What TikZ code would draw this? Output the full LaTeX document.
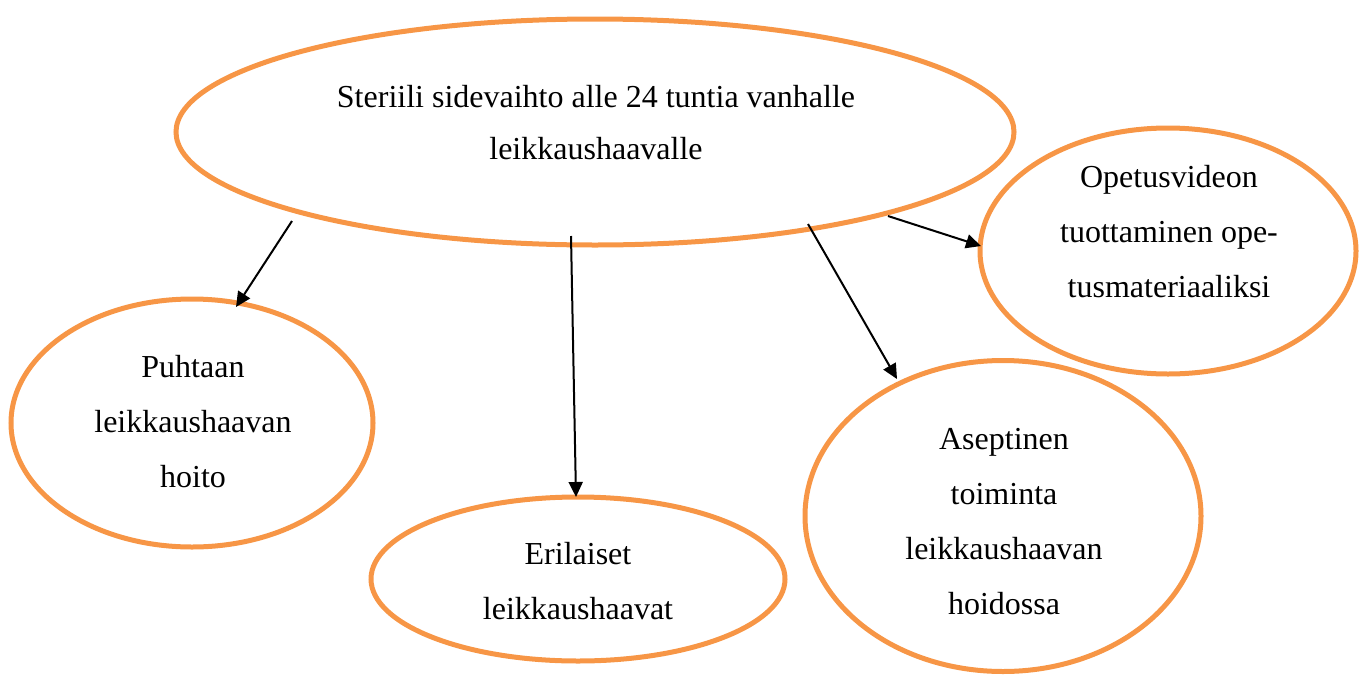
\documentclass[tikz,border=0pt]{standalone}
\usepackage{fontspec}
\setmainfont{Liberation Serif}
\newfontfamily\lserif{Liberation Serif}
\usetikzlibrary{shapes.geometric,arrows.meta}
\definecolor{orng}{RGB}{247,150,70}
\tikzset{
  oval/.style={draw=orng, line width=2.5pt, ellipse, inner sep=0pt},
  txt/.style={align=center, font=\lserif\fontsize{16pt}{27.5pt}\selectfont, inner sep=0pt},
  arr/.style={-{Triangle[length=7.5pt,width=7pt]}, line width=1pt, black}
}
\begin{document}
\begin{tikzpicture}[x=0.5pt,y=-0.5pt]
\useasboundingbox (0,0) rectangle (1365,675);
% ellipses
\node[oval, minimum width=838pt*0.5, minimum height=226pt*0.5] (top) at (595,132) {};
\node[oval, minimum width=376pt*0.5, minimum height=246pt*0.5] (video) at (1168,251) {};
\node[oval, minimum width=362pt*0.5, minimum height=248pt*0.5] (puhdas) at (192,423) {};
\node[oval, minimum width=414pt*0.5, minimum height=164pt*0.5] (erilaiset) at (578,579) {};
\node[oval, minimum width=396pt*0.5, minimum height=311pt*0.5] (asept) at (1003,516) {};
% texts
\node[txt] (ttop) at (596,123) {Steriili sidevaihto alle 24 tuntia vanhalle\\[-1.5pt]leikkaushaavalle};
\node[txt] (tvideo) at (1169,232) {Opetusvideon\\tuottaminen ope-\\tusmateriaaliksi};
\node[txt] (tpuhdas) at (193,422) {Puhtaan\\leikkaushaavan\\hoito};
\node[txt] (terilaiset) at (578,581) {Erilaiset\\leikkaushaavat};
\node[txt] (tasept) at (1004,522) {Aseptinen\\toiminta\\leikkaushaavan\\hoidossa};
% arrow ends
\coordinate (s1) at (292,221);
\coordinate (e1) at (236,307);
\coordinate (s2) at (571,236);
\coordinate (e2) at (576,497);
\coordinate (s3) at (808,224);
\coordinate (e3) at (897,379);
\coordinate (s4) at (888,216);
\coordinate (e4) at (981,246);
\draw[arr] (s1) -- (e1);
\draw[arr] (s2) -- (e2);
\draw[arr] (s3) -- (e3);
\draw[arr] (s4) -- (e4);
\end{tikzpicture}
\end{document}
